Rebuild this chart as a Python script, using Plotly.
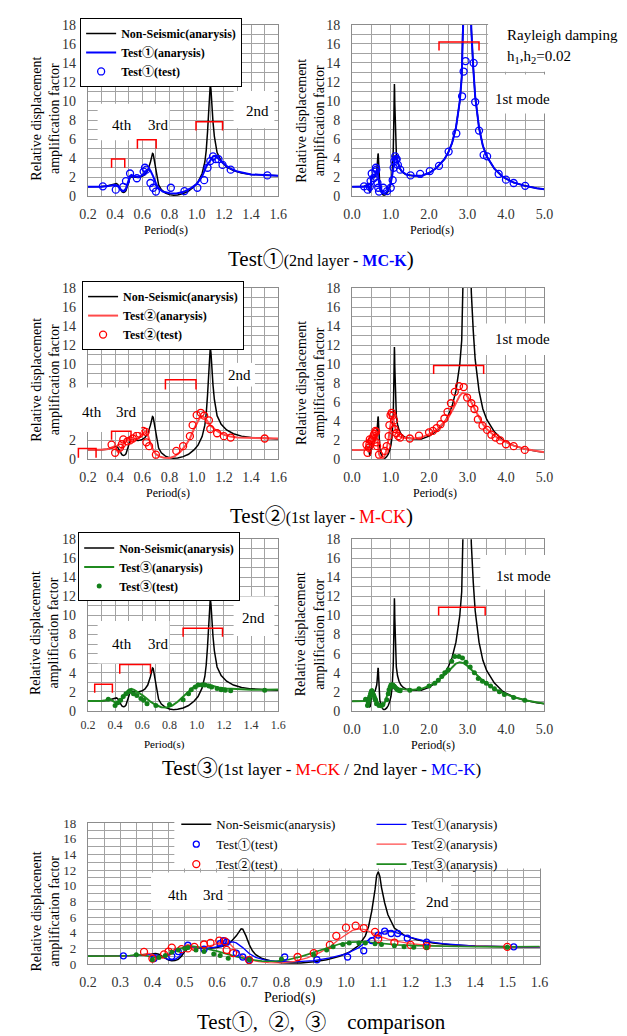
import plotly.graph_objects as go

W, H = 627, 1036
FONT = "Liberation Serif, Noto Sans CJK JP, serif"
GRID = "#a3a3a3"
FRAME = "#8c8c8c"
TICKC = "#333333"

# ---------------- data ----------------
NS_X = [0.00, 0.20, 0.30, 0.34, 0.37, 0.39, 0.41, 0.42, 0.43, 0.44, 0.45, 0.46, 0.47, 0.48, 0.49,
        0.50, 0.51, 0.52, 0.54, 0.57, 0.60, 0.62, 0.64, 0.65, 0.66, 0.67, 0.675, 0.68, 0.69, 0.70,
        0.71, 0.72, 0.74, 0.77, 0.80, 0.83, 0.86, 0.90, 0.94, 0.98, 1.01, 1.04, 1.06, 1.07, 1.08,
        1.09, 1.095, 1.10, 1.105, 1.11, 1.12, 1.13, 1.15, 1.18, 1.22, 1.27, 1.33, 1.40, 1.50, 1.60,
        1.80, 2.00, 2.20, 2.40, 2.50, 2.60, 2.70, 2.80, 2.85, 2.90, 2.95, 3.00, 3.05, 3.10, 3.15,
        3.20, 3.30, 3.40, 3.50, 3.70, 3.90, 4.00, 4.20, 4.50, 4.80, 5.00]
NS_Y = [1.00, 1.00, 1.02, 1.08, 1.20, 1.32, 1.35, 1.25, 1.00, 0.70, 0.50, 0.42, 0.45, 0.60, 1.00,
        1.60, 1.95, 2.05, 2.00, 1.98, 2.10, 2.30, 2.70, 3.10, 3.60, 4.20, 4.50, 4.45, 3.60, 2.50,
        1.70, 1.20, 0.70, 0.35, 0.18, 0.12, 0.15, 0.30, 0.55, 1.00, 1.50, 2.40, 3.60, 4.80, 6.80,
        9.50, 11.30, 11.80, 11.20, 9.80, 7.80, 6.30, 4.60, 3.70, 3.10, 2.70, 2.45, 2.30, 2.20, 2.15,
        2.15, 2.45, 3.00, 3.90, 4.60, 5.60, 7.20, 10.00, 12.50, 17.00, 26.00, 40.00, 26.00, 17.50, 13.50,
        10.50, 7.20, 5.30, 4.20, 2.90, 2.10, 1.85, 1.45, 1.10, 0.85, 0.75]

T1_AN_X = [0.00, 0.20, 0.30, 0.35, 0.38, 0.40, 0.42, 0.43, 0.44, 0.45, 0.46, 0.47, 0.48, 0.49, 0.50,
           0.51, 0.52, 0.54, 0.57, 0.60, 0.62, 0.64, 0.65, 0.66, 0.68, 0.70, 0.72, 0.75, 0.80, 0.85,
           0.90, 0.95, 1.00, 1.04, 1.07, 1.10, 1.12, 1.13, 1.14, 1.16, 1.20, 1.25, 1.30, 1.40, 1.50,
           1.60, 1.80, 2.00, 2.20, 2.40, 2.50, 2.60, 2.70, 2.80, 2.85, 2.90, 2.95, 3.00, 3.05, 3.10,
           3.15, 3.20, 3.30, 3.40, 3.50, 3.70, 3.90, 4.00, 4.20, 4.50, 4.80, 5.00]
T1_AN_Y = [1.00, 1.00, 1.01, 1.08, 1.18, 1.22, 1.10, 0.90, 0.70, 0.58, 0.55, 0.60, 0.85, 1.30, 1.80,
           2.15, 2.25, 2.10, 2.00, 2.20, 2.55, 2.80, 2.82, 2.70, 2.10, 1.35, 0.85, 0.50, 0.32, 0.30,
           0.45, 0.80, 1.30, 2.10, 3.10, 3.80, 4.20, 4.25, 4.20, 3.95, 3.40, 2.90, 2.60, 2.30, 2.20,
           2.15, 2.15, 2.45, 3.00, 3.90, 4.60, 5.60, 7.20, 10.00, 12.50, 16.80, 25.00, 35.00, 26.00, 17.50,
           13.50, 10.50, 7.20, 5.30, 4.20, 2.90, 2.10, 1.85, 1.45, 1.10, 0.85, 0.75]

T2_AN_X = [0.00, 0.20, 0.30, 0.35, 0.38, 0.39, 0.40, 0.41, 0.42, 0.43, 0.44, 0.45, 0.46, 0.47, 0.48,
           0.50, 0.53, 0.56, 0.59, 0.61, 0.62, 0.63, 0.64, 0.66, 0.68, 0.70, 0.73, 0.76, 0.80, 0.84,
           0.88, 0.92, 0.95, 0.98, 1.00, 1.02, 1.04, 1.06, 1.08, 1.10, 1.13, 1.16, 1.20, 1.25, 1.30,
           1.40, 1.50, 1.60, 1.80, 2.00, 2.20, 2.40, 2.50, 2.60, 2.70, 2.80, 2.87, 2.95, 3.00, 3.10,
           3.20, 3.30, 3.40, 3.50, 3.70, 3.90, 4.00, 4.20, 4.50, 4.80, 5.00]
T2_AN_Y = [1.00, 1.00, 1.02, 1.10, 1.30, 1.35, 1.25, 1.00, 0.80, 0.75, 0.90, 1.25, 1.65, 1.95, 2.05,
           2.00, 2.00, 2.15, 2.45, 2.80, 2.95, 2.90, 2.60, 1.70, 1.00, 0.55, 0.30, 0.18, 0.15, 0.35,
           0.80, 1.50, 2.20, 3.20, 3.80, 4.30, 4.50, 4.40, 4.00, 3.60, 3.20, 2.90, 2.60, 2.40, 2.30,
           2.25, 2.20, 2.20, 2.30, 2.65, 3.10, 3.90, 4.40, 5.10, 5.90, 6.70, 7.00, 6.90, 6.60, 6.00,
           5.20, 4.40, 3.70, 3.20, 2.50, 2.00, 1.80, 1.45, 1.10, 0.85, 0.75]

T3_AN_X = [0.00, 0.20, 0.30, 0.33, 0.35, 0.37, 0.39, 0.41, 0.42, 0.44, 0.46, 0.48, 0.50, 0.52, 0.54,
           0.57, 0.60, 0.63, 0.66, 0.70, 0.74, 0.78, 0.82, 0.86, 0.90, 0.94, 0.98, 1.02, 1.05, 1.08,
           1.12, 1.16, 1.22, 1.30, 1.40, 1.50, 1.60, 1.80, 2.00, 2.20, 2.40, 2.50, 2.60, 2.70, 2.80,
           2.90, 3.00, 3.10, 3.20, 3.40, 3.60, 3.80, 4.00, 4.20, 4.50, 4.80, 5.00]
T3_AN_Y = [1.00, 1.00, 1.02, 1.10, 1.18, 1.15, 0.95, 0.80, 0.80, 1.00, 1.40, 1.85, 2.15, 2.30, 2.20,
           1.95, 1.65, 1.30, 0.95, 0.60, 0.38, 0.35, 0.55, 0.95, 1.50, 2.10, 2.55, 2.80, 2.85, 2.75,
           2.60, 2.45, 2.35, 2.28, 2.22, 2.20, 2.20, 2.30, 2.60, 3.05, 3.70, 4.10, 4.55, 4.95, 5.10,
           5.00, 4.70, 4.30, 3.90, 3.15, 2.55, 2.10, 1.75, 1.45, 1.10, 0.85, 0.75]

T1_TEST_X = [0.31, 0.405, 0.46, 0.48, 0.51, 0.56, 0.61, 0.62, 0.63, 0.66, 0.68, 0.70, 0.81, 0.91,
             1.005, 1.055, 1.08, 1.10, 1.12, 1.14, 1.16, 1.19, 1.25, 1.52, 1.77, 2.02, 2.26, 2.51,
             2.71, 2.86, 2.90, 2.95, 3.16, 3.20, 3.30, 3.42, 3.51, 3.81, 4.00, 4.20, 4.50]
T1_TEST_Y = [1.05, 0.70, 1.00, 1.60, 2.40, 1.90, 2.60, 3.00, 2.80, 1.40, 0.90, 0.50, 0.90, 0.55,
             0.90, 1.70, 3.00, 3.70, 4.20, 3.90, 3.90, 3.30, 2.80, 2.20, 2.35, 2.65, 3.20, 4.70,
             6.60, 10.50, 13.10, 14.20, 14.00, 9.90, 6.90, 4.35, 4.20, 2.35, 1.75, 1.40, 1.10]

T2_TEST_X = [0.374, 0.40, 0.436, 0.45, 0.46, 0.49, 0.51, 0.53, 0.56, 0.58, 0.607, 0.625, 0.63, 0.65,
             0.70, 0.85, 0.90, 0.95, 0.97, 1.00, 1.03, 1.055, 1.09, 1.10, 1.15, 1.20, 1.25, 1.50,
             1.74, 2.00, 2.10, 2.20, 2.30, 2.40, 2.48, 2.57, 2.67, 2.78, 2.90, 2.99, 3.10, 3.18,
             3.27, 3.39, 3.51, 3.62, 3.73, 3.85, 4.00, 4.20, 4.49]
T2_TEST_Y = [1.55, 0.70, 1.24, 1.60, 2.10, 1.90, 2.00, 2.20, 2.50, 2.70, 3.00, 2.90, 1.80, 1.40,
             0.50, 0.90, 1.40, 2.45, 3.60, 4.65, 4.90, 4.60, 4.10, 3.20, 2.75, 2.45, 2.30, 2.20,
             2.50, 2.85, 3.00, 3.30, 3.70, 4.30, 5.00, 5.90, 7.10, 7.70, 7.60, 6.50, 5.90, 5.30,
             4.20, 3.55, 3.10, 2.60, 2.30, 2.00, 1.60, 1.40, 1.00]

T3_TEST_X = [0.35, 0.40, 0.42, 0.44, 0.46, 0.48, 0.50, 0.51, 0.535, 0.56, 0.59, 0.61, 0.635, 0.70,
             0.80, 0.90, 0.94, 0.96, 0.99, 1.01, 1.04, 1.06, 1.09, 1.11, 1.15, 1.18, 1.21, 1.25,
             1.50, 1.74, 2.00, 2.15, 2.24, 2.33, 2.41, 2.50, 2.59, 2.67, 2.78, 2.87, 2.96, 3.07,
             3.18, 3.28, 3.39, 3.49, 3.60, 3.70, 3.83, 3.96, 4.20, 4.49]
T3_TEST_Y = [1.20, 0.55, 0.85, 1.10, 1.50, 1.80, 2.00, 2.10, 1.80, 1.60, 1.30, 1.10, 0.75, 0.55,
             0.65, 1.15, 1.80, 2.20, 2.50, 2.70, 2.70, 2.70, 2.60, 2.50, 2.35, 2.20, 2.15, 2.10,
             2.15, 2.30, 2.60, 2.90, 3.20, 3.60, 4.00, 4.30, 5.20, 5.70, 5.70, 5.55, 5.10, 4.60,
             4.00, 3.40, 3.10, 2.90, 2.60, 2.30, 2.00, 1.70, 1.40, 1.10]

LEFT_XTICKS = [0.2, 0.4, 0.6, 0.8, 1.0, 1.2, 1.4, 1.6]
RIGHT_XTICKS = [0.0, 1.0, 2.0, 3.0, 4.0, 5.0]
BOTTOM_XTICKS = [0.2, 0.3, 0.4, 0.5, 0.6, 0.7, 0.8, 0.9, 1.0, 1.1, 1.2, 1.3, 1.4, 1.5, 1.6]
YTICKS = [0, 2, 4, 6, 8, 10, 12, 14, 16, 18]

NAME_NS = "Non-Seismic(anarysis)"
NAMES = {
    1: ("Test①(anarysis)", "Test①(test)"),
    2: ("Test②(anarysis)", "Test②(test)"),
    3: ("Test③(anarysis)", "Test③(test)"),
}

# ---------------- helpers ----------------
def PX(px):
    return px / W

def PY(py):
    return 1 - py / H

BLUE = "#0000ff"
RED_L = "#ff4a4a"
RED_M = "#ff0000"
GREEN = "#1f8a1f"
GREEN_M = "#13801a"

fig = go.Figure()

def add_line(x, y, color, width, ax, name, legend=None, bold=False):
    nm = f"<b>{name}</b>" if bold else name
    fig.add_trace(go.Scatter(
        x=x, y=y, mode="lines", line=dict(color=color, width=width),
        xaxis="x" + ax, yaxis="y" + ax, name=nm,
        showlegend=legend is not None, legend=legend or "legend",
        hoverinfo="skip"))

def add_pts(x, y, color, ax, name, legend=None, bold=False, filled=False, size=7):
    nm = f"<b>{name}</b>" if bold else name
    if filled:
        mk = dict(symbol="circle", size=size - 2, color=color)
    else:
        mk = dict(symbol="circle-open", size=size, color=color, line=dict(width=1.3, color=color))
    fig.add_trace(go.Scatter(
        x=x, y=y, mode="markers", marker=mk,
        xaxis="x" + ax, yaxis="y" + ax, name=nm,
        showlegend=legend is not None, legend=legend or "legend",
        hoverinfo="skip"))

AN = {1: (T1_AN_X, T1_AN_Y, BLUE), 2: (T2_AN_X, T2_AN_Y, RED_L), 3: (T3_AN_X, T3_AN_Y, GREEN)}
TS = {1: (T1_TEST_X, T1_TEST_Y, BLUE), 2: (T2_TEST_X, T2_TEST_Y, RED_M), 3: (T3_TEST_X, T3_TEST_Y, GREEN_M)}
LEG = {1: "legend", 2: "legend2", 3: "legend3"}

# panels 1..6
for k in (1, 2, 3):
    left_ax = "" if k == 1 else str(2 * k - 1)
    right_ax = str(2 * k)
    for ax, leg in ((left_ax, LEG[k]), (right_ax, None)):
        add_line(NS_X, NS_Y, "black", 1.5, ax, NAME_NS, leg, bold=True)
        ax_x, ax_y, c = AN[k]
        add_line(ax_x, ax_y, c, 2, ax, NAMES[k][0], leg, bold=True)
        tx, ty, tc = TS[k]
        add_pts(tx, ty, tc, ax, NAMES[k][1], leg, bold=True, filled=(k == 3), size=7)

# bottom comparison panel
add_line(NS_X, NS_Y, "black", 1.5, "7", NAME_NS, "legend4")
add_line(T1_AN_X, T1_AN_Y, BLUE, 1.3, "7", NAMES[1][0], "legend5")
add_line(T2_AN_X, T2_AN_Y, RED_L, 1.3, "7", NAMES[2][0], "legend5")
add_line(T3_AN_X, T3_AN_Y, GREEN, 1.6, "7", NAMES[3][0], "legend5")
add_pts(T1_TEST_X, T1_TEST_Y, BLUE, "7", NAMES[1][1], "legend4", size=6)
add_pts(T2_TEST_X, T2_TEST_Y, RED_M, "7", NAMES[2][1], "legend4", size=7)
add_pts(T3_TEST_X, T3_TEST_Y, GREEN_M, "7", NAMES[3][1], None, filled=True, size=7)

# ---------------- axes ----------------
LEFT_DOM = [PX(73), PX(269)]
RIGHT_DOM = [PX(345), PX(543)]
BOT_DOM = [PX(73), PX(538)]
ROWS = {1: [PY(184), PY(10)], 2: [PY(451), PY(277)], 3: [PY(706), PY(532)], 4: [PY(963), PY(820)]}

def xaxis(dom, anchor, rng, ticks, minor, size=14, standoff=5):
    return dict(domain=dom, anchor=anchor, range=rng, tickmode="array", tickvals=ticks,
                ticktext=[f"{v:.1f}" for v in ticks], showgrid=True, gridcolor=GRID, gridwidth=1,
                minor=dict(dtick=minor, tick0=0, showgrid=True, gridcolor=GRID, gridwidth=1),
                showline=True, linecolor=FRAME, linewidth=1, mirror=True, zeroline=False, ticks="",
                tickfont=dict(family=FONT, size=size, color=TICKC), ticklabelstandoff=standoff,
                fixedrange=True)

def yaxis(dom, anchor, size=14):
    return dict(domain=dom, anchor=anchor, range=[0, 18], tickmode="array", tickvals=YTICKS,
                showgrid=True, gridcolor=GRID, gridwidth=1,
                minor=dict(dtick=1, tick0=0, showgrid=True, gridcolor=GRID, gridwidth=1),
                showline=True, linecolor=FRAME, linewidth=1, mirror=True, zeroline=False, ticks="",
                tickfont=dict(family=FONT, size=size, color=TICKC), ticklabelstandoff=8,
                fixedrange=True)

LR = [0.2 - 1e-6, 1.6 + 1e-6]
RR = [0 - 1e-6, 5 + 1e-6]
layout_axes = {}
for k in (1, 2, 3):
    li = 2 * k - 1
    ri = 2 * k
    lsfx = "" if li == 1 else str(li)
    dom = ROWS[k]
    xs = 12 if k == 3 else 14
    layout_axes["xaxis" + lsfx] = xaxis(LEFT_DOM, "y" + lsfx, LR, LEFT_XTICKS, 0.1, size=xs,
                                        standoff=3 if k == 3 else 5)
    layout_axes["yaxis" + lsfx] = yaxis(dom, "x" + lsfx)
    layout_axes["xaxis" + str(ri)] = xaxis(RIGHT_DOM, "y" + str(ri), RR, RIGHT_XTICKS, 0.5)
    layout_axes["yaxis" + str(ri)] = yaxis(dom, "x" + str(ri))
layout_axes["xaxis7"] = xaxis(BOT_DOM, "y7", LR, BOTTOM_XTICKS, 0.05, size=14, standoff=5)
layout_axes["yaxis7"] = yaxis(ROWS[4], "x7", size=13)

# ---------------- legends ----------------
def boxed_legend(px, py):
    return dict(x=PX(px), y=PY(py), xanchor="left", yanchor="top", bgcolor="white",
                bordercolor="black", borderwidth=1, tracegroupgap=0, itemwidth=30,
                font=dict(family=FONT, size=12, color="black"))

def plain_legend(px, py):
    return dict(x=PX(px), y=PY(py), xanchor="left", yanchor="top", bgcolor="rgba(0,0,0,0)",
                borderwidth=0, tracegroupgap=0, itemwidth=30,
                font=dict(family=FONT, size=13, color="black"))

# ---------------- decorations ----------------
shapes = []

def white_box(x0, y0, x1, y1):
    shapes.append(dict(type="rect", xref="paper", yref="paper", x0=PX(x0), x1=PX(x1),
                       y0=PY(y1), y1=PY(y0), fillcolor="white", line=dict(width=0), layer="above"))

for b in [(83, 90, 157, 127), (223, 77, 265, 115),
          (485, 4, 627, 57.5), (485, 60.5, 549, 100),
          (50, 378, 128, 423), (213, 353, 245, 377),
          (473, 313, 549, 345),
          (83, 615, 157, 658), (223, 590, 265, 630),
          (477, 548, 549, 583),
          (138, 870, 217, 908), (410, 880, 447, 915), (162, 806, 546, 866)]:
    white_box(*b)

def bracket(ax, x0, x1, top, bot, domain=False):
    if domain:
        xr, yr = "x" + ax + " domain", "y" + ax + " domain"
    else:
        xr, yr = "x" + ax, "y" + ax
    shapes.append(dict(type="path", xref=xr, yref=yr,
                       path=f"M {x0},{bot} L {x0},{top} L {x1},{top} L {x1},{bot}",
                       line=dict(color="#ff0000", width=1.5), layer="above"))

for ax, x0, x1, t, b in [("", 0.374, 0.471, 3.93, 3.0), ("", 0.564, 0.702, 5.93, 5.0),
                         ("", 0.995, 1.19, 7.83, 6.9), ("2", 2.26, 3.30, 16.2, 15.3),
                         ("3", 0.374, 0.517, 2.97, 2.07), ("3", 0.77, 0.995, 8.38, 7.34),
                         ("4", 2.12, 3.42, 9.86, 8.96),
                         ("5", 0.25, 0.38, 2.79, 1.9), ("5", 0.434, 0.66, 4.86, 3.9),
                         ("5", 0.90, 1.19, 8.65, 7.76), ("6", 2.25, 3.46, 10.86, 10.0)]:
    bracket(ax, x0, x1, t, b)
# 4th-mode bracket of Test2 sits partly left of the axis -> domain coordinates
bracket("3", (0.13 - 0.2) / 1.4, (0.26 - 0.2) / 1.4, 1.14 / 18, 0.17 / 18, domain=True)

annotations = []

def ann(text, px, py, size=15, xanchor="center", angle=0, color="black"):
    annotations.append(dict(text=text, x=PX(px), y=PY(py), xref="paper", yref="paper",
                            xanchor=xanchor, yanchor="middle", showarrow=False, textangle=angle,
                            font=dict(family=FONT, size=size, color=color)))

# mode labels
for t, x, y in [("4th", 108, 112), ("3rd", 145, 112), ("2nd", 248, 97),
                ("1st mode", 520, 85),
                ("4th", 77, 403), ("3rd", 112, 403), ("2nd", 229, 365),
                ("1st mode", 520, 329),
                ("4th", 108, 638), ("3rd", 145, 638), ("2nd", 243, 612),
                ("1st mode", 521, 569),
                ("4th", 166, 893), ("3rd", 202, 893), ("2nd", 433, 900)]:
    ann(t, x, y, 15)
ann("Rayleigh damping", 502, 20, 15, xanchor="left")
ann("h<sub>1</sub>,h<sub>2</sub>=0.02", 502, 43, 15, xanchor="left")

# axis titles
for x, y, s in [(153, 218, 12), (427, 218, 12), (155, 485, 12), (430, 485, 12),
                (152, 740, 11), (428, 741, 12), (281, 997, 14)]:
    ann("Period(s)", x, y, s)
YT = "Relative displacement<br>amplification factor"
for x, y in [(29, 105), (302, 107), (29, 370), (302, 373), (29, 627), (302, 628)]:
    ann(YT, x, y, 14, angle=-90)
ann("Relative displacenent<br>amplification factor", 29.5, 910, 14, angle=-90)

# panel titles
ann("Test①<span style='font-size:16px'>(2nd layer - </span>"
    "<span style='font-size:16px;color:#0000ff'><b>MC-K</b></span>)", 313, 248, 21)
ann("Test②<span style='font-size:16px'>(1st layer - </span>"
    "<span style='font-size:18px;color:#ff0000'>M-CK</span>)", 313, 508, 21)
ann("Test③<span style='font-size:17px'>(1st layer - </span>"
    "<span style='font-size:17px;color:#ff0000'>M-CK</span>"
    "<span style='font-size:17px'> / 2nd layer - </span>"
    "<span style='font-size:17px;color:#0000ff'>MC-K</span>"
    "<span style='font-size:17px'>)</span>", 313, 764, 21)
ann("Test①,  ②,  ③　comparison", 313, 1022, 21)

fig.update_layout(
    width=W, height=H, margin=dict(l=0, r=0, t=0, b=0),
    paper_bgcolor="white", plot_bgcolor="white",
    font=dict(family=FONT, color="black"),
    showlegend=True,
    legend=boxed_legend(65, 3),
    legend2=boxed_legend(67, 270),
    legend3=boxed_legend(63, 525),
    legend4=plain_legend(164, 806),
    legend5=plain_legend(365, 806),
    shapes=shapes, annotations=annotations,
    **layout_axes,
)

fig.write_html("out.html")
